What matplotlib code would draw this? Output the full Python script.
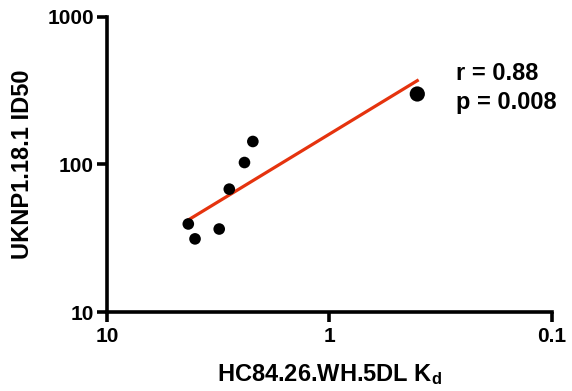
import numpy as np
import matplotlib
matplotlib.use("Agg")
import matplotlib.pyplot as plt
from matplotlib.ticker import FixedLocator, NullLocator

plt.rcParams['font.family'] = ['Liberation Sans', 'DejaVu Sans']
plt.rcParams['font.weight'] = 'bold'
plt.rcParams['mathtext.fontset'] = 'custom'
plt.rcParams['mathtext.rm'] = 'Liberation Sans:bold'
plt.rcParams['mathtext.it'] = 'Liberation Sans:bold'

# data
kd = [2.21, 2.41, 2.82, 4.31, 4.02, 3.13, 0.403]
id50 = [143, 103, 68, 39.5, 31.3, 36.5, 300]
r_text = "r = 0.88"
p_text = "p = 0.008"

# point sizes (last one drawn bigger in the original)
sizes = [70] * 6 + [120]

fig = plt.figure(figsize=(5.72, 3.91), dpi=100)
ax = fig.add_axes([0.187, 0.202, 0.778, 0.755])

ax.scatter(kd, id50, s=sizes, color='black', zorder=3, linewidths=0)

# linear fit in log-log space
lx = np.log10(kd)
ly = np.log10(id50)
m, c = np.polyfit(lx, ly, 1)
xf = np.array([lx.min(), lx.max()])
ax.plot(10**xf, 10**(m*xf + c), color='#e5330e', linewidth=2.3, zorder=2)

ax.set_xscale('log')
ax.set_yscale('log')
ax.set_xlim(10, 0.1)
ax.set_ylim(10, 1000)
ax.xaxis.set_major_locator(FixedLocator([10, 1, 0.1]))
ax.yaxis.set_major_locator(FixedLocator([10, 100, 1000]))
ax.xaxis.set_minor_locator(NullLocator())
ax.yaxis.set_minor_locator(NullLocator())
ax.set_xticklabels(['10', '1', '0.1'])
ax.set_yticklabels(['10', '100', '1000'])

for s in ['top', 'right']:
    ax.spines[s].set_visible(False)
for s in ['left', 'bottom']:
    ax.spines[s].set_linewidth(2.6)
ax.tick_params(width=2.6, length=7.5, labelsize=15, pad=2)
ax.tick_params(axis='x', pad=3)

ax.set_xlabel('HC84.26.WH.5DL K$_{d}$', fontsize=17, fontweight='bold')
ax.set_ylabel('UKNP1.18.1 ID50', fontsize=17, fontweight='bold')
ax.yaxis.set_label_coords(-0.163, 0.5)
ax.xaxis.set_label_coords(0.5, -0.17)

fig.text(0.797, 0.813, r_text, fontsize=17, fontweight='bold', va='center')
fig.text(0.797, 0.738, p_text, fontsize=17, fontweight='bold', va='center')

fig.savefig('out.png', dpi=100)
